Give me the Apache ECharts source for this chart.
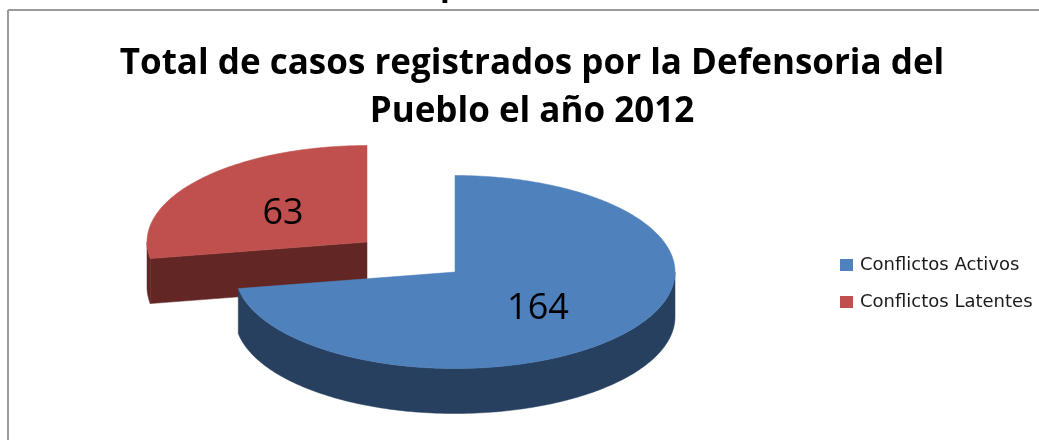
<!DOCTYPE html>
<html><head><meta charset="utf-8">
<style>html,body{margin:0;padding:0;background:#fff}#c{width:1039px;height:440px}</style>
<script src="https://cdn.jsdelivr.net/npm/echarts@6/dist/echarts.min.js"></script>
</head><body><div id="c"></div>
<script>
const categories = ['Conflictos Activos', 'Conflictos Latentes'];
const values = [164, 63];
const titleLines = ['Total de casos registrados por la Defensoria del', 'Pueblo el año 2012'];
const topColors = ['#4F81BD', '#C0504D'];
const wallColors = ['#274060', '#622725'];
const centers = [[455, 272], [367, 242]];
const labelSpots = [[538, 309], [283, 214]];
const RX = 220, RY = 96.5, DEPTH = 45;

const total = values.reduce((a, b) => a + b, 0);
const chart = echarts.init(document.getElementById('c'), null, {renderer: 'canvas'});

function arcPoints(c, a0, a1, dy) {
  const pts = [], n = Math.max(2, Math.ceil(Math.abs(a1 - a0) / 0.02));
  for (let i = 0; i <= n; i++) {
    const a = a0 + (a1 - a0) * i / n;
    pts.push([c[0] + RX * Math.sin(a), c[1] - RY * Math.cos(a) + dy]);
  }
  return pts;
}
function sliceRenderer(idx) {
  return function (params, api) {
    const before = values.slice(0, idx).reduce((a, b) => a + b, 0);
    const a0 = before / total * 2 * Math.PI;
    const a1 = (before + api.value(0)) / total * 2 * Math.PI;
    const c = centers[idx];
    const children = [];
    const poly = (points, fill) => children.push({type: 'polygon', shape: {points}, style: {fill, stroke: fill, lineWidth: 0.5}});
    if (a0 > Math.PI && a0 < 2 * Math.PI) {
      const p = arcPoints(c, a0, a0, 0)[0];
      poly([c, p, [p[0], p[1] + DEPTH], [c[0], c[1] + DEPTH]], wallColors[idx]);
    }
    const lo = Math.max(a0, Math.PI / 2), hi = Math.min(a1, 3 * Math.PI / 2);
    if (hi > lo) {
      poly(arcPoints(c, lo, hi, 0).concat(arcPoints(c, hi, lo, DEPTH)), wallColors[idx]);
    }
    poly([c].concat(arcPoints(c, a0, a1, 0)), topColors[idx]);
    children.push({type: 'text', x: labelSpots[idx][0], y: labelSpots[idx][1],
      style: {text: String(api.value(0)), fill: '#000', font: '36px "Open Sans"', align: 'center', verticalAlign: 'middle'}});
    return {type: 'group', children};
  };
}

chart.setOption({
  animation: false,
  backgroundColor: '#fff',
  title: {
    text: titleLines.join('\n'), left: 527, top: 35, textAlign: 'center',
    textStyle: {fontFamily: '"Open Sans"', fontWeight: 'bold', fontSize: 35, lineHeight: 48, color: '#000'}
  },
  legend: {
    orient: 'vertical', left: 835, top: 251, itemWidth: 13, itemHeight: 12, itemGap: 19,
    icon: 'rect', data: categories,
    textStyle: {fontFamily: '"DejaVu Sans"', fontSize: 18, color: '#1a1a1a', padding: [0, 0, 0, 2]}
  },
  graphic: [
    {type: 'line', shape: {x1: 8, y1: 10, x2: 1039, y2: 10}, style: {stroke: '#9a9a9a', lineWidth: 2}},
    {type: 'line', shape: {x1: 8, y1: 10, x2: 8, y2: 440}, style: {stroke: '#9a9a9a', lineWidth: 2}},
    {type: 'text', x: 440, y: -30, style: {text: 'p', font: 'bold 32px "Open Sans"', fill: '#000'}}
  ],
  series: categories.map((name, i) => ({
    type: 'custom', name, coordinateSystem: 'none', silent: true,
    itemStyle: {color: topColors[i]},
    renderItem: sliceRenderer(i),
    data: [[values[i]]],
    z: i === 0 ? 3 : 2
  }))
});
</script></body></html>
